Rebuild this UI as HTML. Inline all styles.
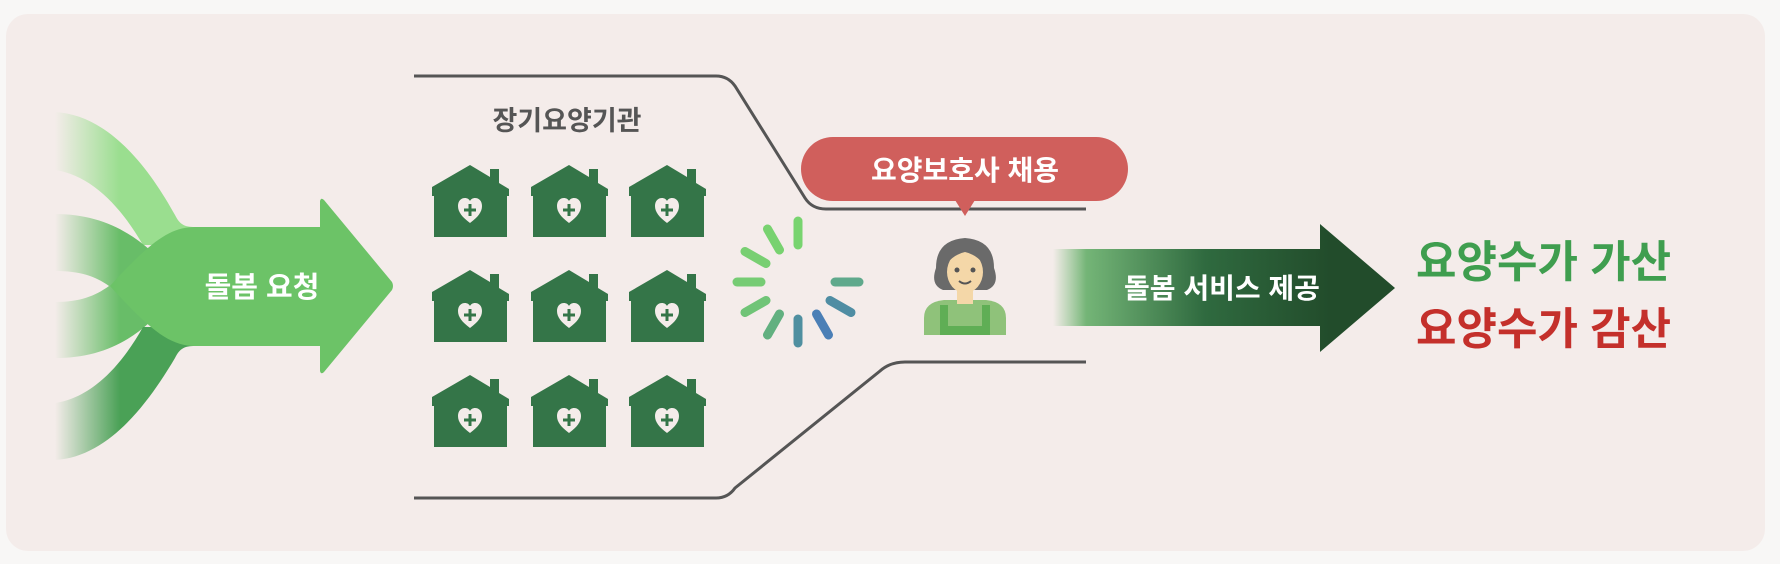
<!DOCTYPE html>
<html><head><meta charset="utf-8"><style>
html,body{margin:0;padding:0;background:#f8f7f6;}
body{width:1780px;height:564px;overflow:hidden;}
svg{display:block;}
text{font-family:"Liberation Sans","Noto Sans CJK KR",sans-serif;font-weight:bold;}
</style></head><body>
<svg width="1780" height="564" viewBox="0 0 1780 564">
<defs>
<linearGradient id="f1" x1="55" y1="0" x2="120" y2="0" gradientUnits="userSpaceOnUse"><stop offset="0" stop-color="#9ade8f" stop-opacity="0"/><stop offset="1" stop-color="#9ade8f"/></linearGradient>
<linearGradient id="f2" x1="55" y1="0" x2="120" y2="0" gradientUnits="userSpaceOnUse"><stop offset="0" stop-color="#68bd68" stop-opacity="0"/><stop offset="1" stop-color="#68bd68"/></linearGradient>
<linearGradient id="f3" x1="55" y1="0" x2="120" y2="0" gradientUnits="userSpaceOnUse"><stop offset="0" stop-color="#4aa156" stop-opacity="0"/><stop offset="1" stop-color="#4aa156"/></linearGradient>
<linearGradient id="da" x1="1053" y1="0" x2="1330" y2="0" gradientUnits="userSpaceOnUse"><stop offset="0" stop-color="#7dbd7c" stop-opacity="0"/><stop offset="0.12" stop-color="#74b577"/><stop offset="0.55" stop-color="#2f6a3f"/><stop offset="1" stop-color="#224c2b"/></linearGradient>
<g id="house">
<path d="M0 22 L38 0 L58 12 L58 4 L67 4 L67 18 L77 24 L77 31 L75 31 L75 72 L2 72 L2 31 L0 31 Z" fill="#347548"/>
<path d="M38 58 C30 52 26 47 26 41 C26 36 29 33 33 33 C35 33 37 34 38 36 C39 34 41 33 43 33 C47 33 50 36 50 41 C50 47 46 52 38 58 Z" fill="#f4ecea"/>
<rect x="36.5" y="39" width="3" height="12" fill="#347548"/><rect x="32" y="43.5" width="12" height="3" fill="#347548"/>
</g>
</defs>
<rect x="6" y="14" width="1759" height="537" rx="22" fill="#f4ecea"/>
<path d="M55 112 C110 115 150 170 175 215 C180 225 185 227 195 227 L195 245 L143 245 C120 205 90 175 55 170 Z" fill="url(#f1)"/>
<path d="M55 214 C95 214 125 228 150 250 L150 322 C125 345 95 358 55 358 L55 302 C80 302 95 296 109 286 C95 276 80 271 55 271 Z" fill="url(#f2)"/>
<path d="M55 460 C110 457 150 400 175 358 C180 348 185 346 195 346 L195 327 L143 327 C120 368 90 398 55 403 Z" fill="url(#f3)"/>
<path d="M195 227 L320 227 L320 201 Q321 197 324 200 L392 282 Q394 286 392 290 L324 372 Q321 375 320 371 L320 346 L195 346 C170 346 150 330 110 286 C150 242 170 227 195 227 Z" fill="#6cc367"/>
<text x="262" y="297" font-size="29" fill="#fff" text-anchor="middle">돌봄 요청</text>
<path d="M414 76 L716 76 Q728 76 735 86 L805 198 Q812 209 826 209 L1086 209" fill="none" stroke="#555" stroke-width="3"/>
<path d="M414 498 L716 498 Q728 498 735 488 L880 371 Q890 362 905 362 L1086 362" fill="none" stroke="#555" stroke-width="3"/>
<text x="567" y="130" font-size="27" fill="#555" text-anchor="middle">장기요양기관</text>
<use href="#house" x="432" y="165"/><use href="#house" x="531" y="165"/><use href="#house" x="629" y="165"/>
<use href="#house" x="432" y="270"/><use href="#house" x="531" y="270"/><use href="#house" x="629" y="270"/>
<use href="#house" x="432" y="375"/><use href="#house" x="531" y="375"/><use href="#house" x="629" y="375"/>
<g stroke-width="9" stroke-linecap="round" transform="translate(798,282)">
<line x1="0" y1="-37" x2="0" y2="-61" stroke="#78d46f"/>
<line x1="-18.5" y1="-32" x2="-30.5" y2="-53" stroke="#78d270"/>
<line x1="-32" y1="-18.5" x2="-53" y2="-30.5" stroke="#78cf72"/>
<line x1="-37" y1="0" x2="-61" y2="0" stroke="#76cc74"/>
<line x1="-32" y1="18.5" x2="-53" y2="30.5" stroke="#70c477"/>
<line x1="-18.5" y1="32" x2="-30.5" y2="53" stroke="#62b080"/>
<line x1="0" y1="37" x2="0" y2="61" stroke="#4f8fa0"/>
<line x1="18.5" y1="32" x2="30.5" y2="53" stroke="#4b7fb6"/>
<line x1="32" y1="18.5" x2="53" y2="30.5" stroke="#4f8da3"/>
<line x1="37" y1="0" x2="61" y2="0" stroke="#5fa98c"/>
</g>
<rect x="801" y="137" width="327" height="64" rx="32" fill="#d05f5c"/>
<path d="M955 200 L975 200 L965 216 Z" fill="#d05f5c"/>
<text x="965" y="180" font-size="28" fill="#fff" text-anchor="middle">요양보호사 채용</text>
<path d="M924 335 L924 318 Q924 302 944 300 L986 300 Q1006 302 1006 318 L1006 335 Z" fill="#8fc27a"/>
<rect x="940" y="305" width="8" height="30" fill="#5fae55"/><rect x="982" y="305" width="8" height="30" fill="#5fae55"/>
<rect x="944" y="326" width="42" height="9" fill="#5fae55"/>
<rect x="957" y="290" width="16" height="14" fill="#f4d7a8"/>
<path d="M943 290 Q930 285 936 268 Q936 240 965 238 Q994 240 994 268 Q1000 285 987 290 Z" fill="#6a6a6a"/>
<ellipse cx="965" cy="272" rx="18" ry="21" fill="#f4d7a8"/>
<path d="M946 264 Q955 254 965 252 Q975 254 984 264 L985 252 Q975 240 965 240 Q950 242 946 252 Z" fill="#6a6a6a"/>
<circle cx="957" cy="270" r="2.5" fill="#555"/><circle cx="973" cy="270" r="2.5" fill="#555"/>
<path d="M959 281 Q965 286 971 281" stroke="#555" stroke-width="2" fill="none"/>
<path d="M1053 249 L1320 249 L1320 224 L1395 288 L1320 352 L1320 326 L1053 326 Z" fill="url(#da)"/>
<text x="1222" y="298" font-size="28" fill="#fff" text-anchor="middle">돌봄 서비스 제공</text>
<text x="1416" y="277" font-size="44" fill="#3f9e4f">요양수가 가산</text>
<text x="1416" y="344" font-size="44" fill="#c4302b">요양수가 감산</text>
</svg>
</body></html>
